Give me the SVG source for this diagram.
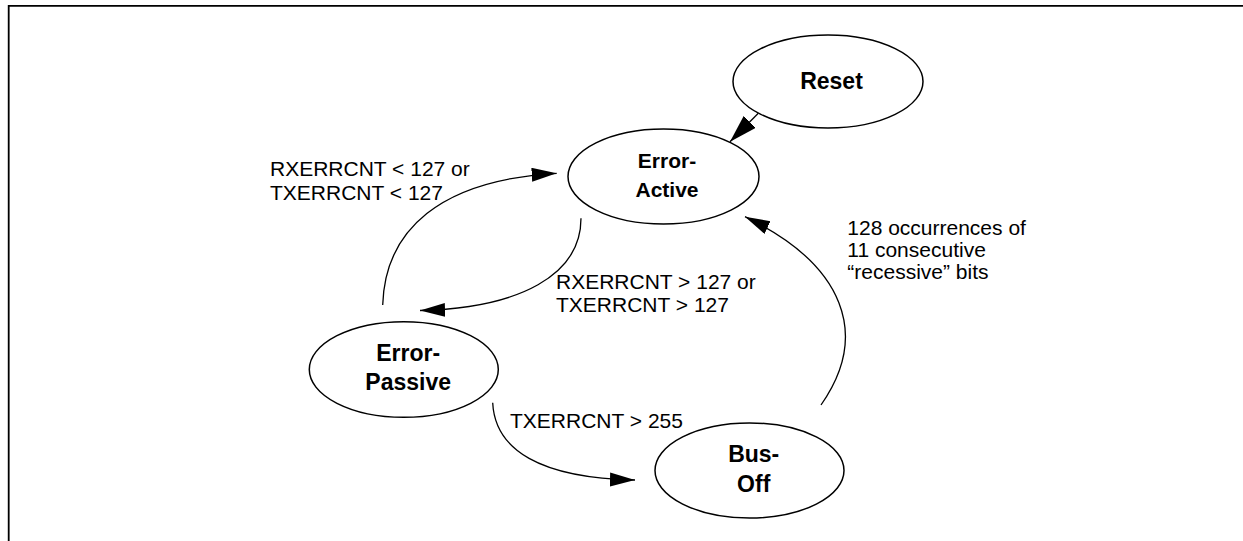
<svg xmlns="http://www.w3.org/2000/svg" width="1243" height="541" viewBox="0 0 1243 541">
<style>
.node{fill:#fff;stroke:#000;stroke-width:1.5}
.nl{font-family:"Liberation Sans",Arial,sans-serif;font-weight:bold;font-size:23px;fill:#000;text-anchor:middle}
.lbl{font-family:"Liberation Sans",Arial,sans-serif;font-size:21px;fill:#000}
.edge{fill:none;stroke:#000;stroke-width:1.3}
</style>
<defs>
<marker id="arr" markerUnits="userSpaceOnUse" markerWidth="26" markerHeight="15" refX="25" refY="7" orient="auto" viewBox="0 0 26 15">
<path d="M0,0 L25,7 L0,14 z" fill="#000"/>
</marker>
<marker id="arrL" markerUnits="userSpaceOnUse" markerWidth="30" markerHeight="18" refX="28" refY="8.5" orient="auto" viewBox="0 0 30 18">
<path d="M0,0 L28,8.5 L0,17 z" fill="#000"/>
</marker>
</defs>
<rect width="1243" height="541" fill="#fff"/>
<path d="M8.7,541 V5.8 H1243" fill="none" stroke="#000" stroke-width="1.8"/>

<g id="connectors">
<path class="edge" d="M758.3,113.3 L730,141.7" marker-end="url(#arrL)"/>
<path class="edge" d="M382.7,305 C385,230 440,180 556.7,173.3" marker-end="url(#arr)"/>
<path class="edge" d="M581,218.3 C581,275 520,308 420,310.5" marker-end="url(#arr)"/>
<path class="edge" d="M492.7,402.7 C495,450 540,478 635,480" marker-end="url(#arr)"/>
<path class="edge" d="M821,405 C870,335 845,265 745,216.7" marker-end="url(#arr)"/>
</g>

<g id="labels">
<text class="lbl" x="270" y="176">RXERRCNT &lt; 127 or</text>
<text class="lbl" x="270" y="200">TXERRCNT &lt; 127</text>
<text class="lbl" x="556" y="289.3">RXERRCNT &gt; 127 or</text>
<text class="lbl" x="556" y="311.7">TXERRCNT &gt; 127</text>
<text class="lbl" x="847.3" y="235">128 occurrences of</text>
<text class="lbl" x="847.3" y="257.3">11 consecutive</text>
<text class="lbl" x="847.3" y="279.3">“recessive” bits</text>
<text class="lbl" x="510" y="428.3">TXERRCNT &gt; 255</text>
</g>

<g id="reset">
<ellipse class="node" cx="828" cy="81.5" rx="95" ry="46.5"/>
<text class="nl" x="831.5" y="89.3">Reset</text>
</g>
<g id="error-active">
<ellipse class="node" cx="663.5" cy="176.5" rx="95.5" ry="47.5"/>
<text class="nl" x="667" y="168.3" style="font-size:21px">Error-</text>
<text class="nl" x="667" y="196.7" style="font-size:21px">Active</text>
</g>
<g id="error-passive">
<ellipse class="node" cx="403.8" cy="369.5" rx="94.5" ry="47.8"/>
<text class="nl" x="408.2" y="361">Error-</text>
<text class="nl" x="408.2" y="390">Passive</text>
</g>
<g id="bus-off">
<ellipse class="node" cx="749.5" cy="470.5" rx="94.5" ry="47.5"/>
<text class="nl" x="753.7" y="461.7">Bus-</text>
<text class="nl" x="753.7" y="491.7">Off</text>
</g>
</svg>
